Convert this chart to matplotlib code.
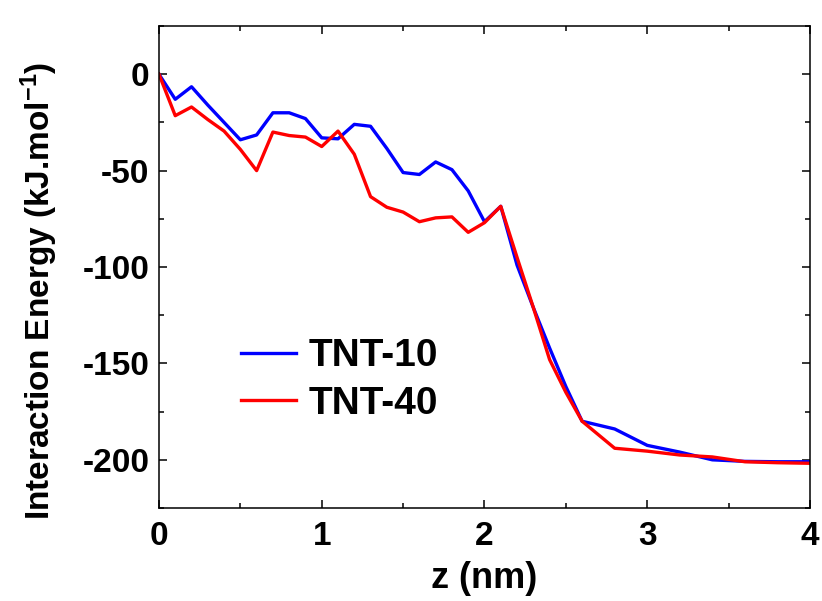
import matplotlib
matplotlib.use("Agg")
import matplotlib.pyplot as plt
from matplotlib.ticker import MultipleLocator

plt.rcParams['font.family'] = ['Liberation Sans', 'DejaVu Sans']
plt.rcParams['font.weight'] = 'bold'
plt.rcParams['axes.unicode_minus'] = False
plt.rcParams['mathtext.fontset'] = 'custom'
plt.rcParams['mathtext.rm'] = 'Liberation Sans:bold'
plt.rcParams['mathtext.bf'] = 'Liberation Sans:bold'
plt.rcParams['mathtext.it'] = 'Liberation Sans:bold'
plt.rcParams['mathtext.default'] = 'bf'

z = [0.0, 0.1, 0.2, 0.3, 0.4, 0.5, 0.6, 0.7, 0.8, 0.9, 1.0, 1.1, 1.2, 1.3,
     1.4, 1.5, 1.6, 1.7, 1.8, 1.9, 2.0, 2.1, 2.2, 2.3, 2.4, 2.5, 2.6,
     2.8, 3.0, 3.2, 3.4, 3.6, 3.8, 4.0]

tnt10 = [0, -13, -6.5, -16, -25, -34, -31.5, -20, -20, -23, -33, -33.5, -26, -27,
         -38.5, -51, -52, -45.5, -49.5, -60.5, -76.5, -68.5, -99, -121, -142, -162, -180,
         -184, -192.5, -196, -200, -200.8, -201, -201]

tnt40 = [0, -21.5, -17, -23.5, -29.5, -39, -50, -30, -31.8, -32.6, -37.5, -29.5, -41.5, -63.5,
         -69, -71.5, -76.5, -74.5, -74, -82, -77, -68.5, -95, -121, -148, -165, -180,
         -194, -195.5, -197.5, -198.5, -201, -201.5, -201.8]

labels = ['TNT-10', 'TNT-40']
colors = ['#0000ff', '#ff0000']

fig = plt.figure(figsize=(8.22, 6.01), dpi=100)
ax = fig.add_axes([0.1934, 0.1547, 0.792, 0.802])

ax.plot(z, tnt10, color=colors[0], lw=2.4, label=labels[0])
ax.plot(z, tnt40, color=colors[1], lw=2.4, label=labels[1])

ax.set_xlim(0, 4)
ax.set_ylim(-225, 25)
ax.xaxis.set_major_locator(MultipleLocator(1))
ax.xaxis.set_minor_locator(MultipleLocator(0.5))
ax.yaxis.set_major_locator(MultipleLocator(50))
ax.yaxis.set_minor_locator(MultipleLocator(25))
ax.tick_params(which='both', direction='in', top=True, right=True, width=1.1)
ax.tick_params(which='major', length=6, labelsize=24)
ax.tick_params(axis='y', which='major', pad=7)
ax.tick_params(axis='x', which='major', pad=9)
ax.tick_params(which='minor', length=3.5)
for s in ax.spines.values():
    s.set_linewidth(1.1)

ax.set_xlabel('z (nm)', fontsize=26, fontweight='bold', labelpad=7)
ax.set_ylabel(r'Interaction Energy (kJ.mol$^{-1}$)', fontsize=24, fontweight='bold')
ax.yaxis.set_label_coords(-0.152, 0.45)

leg = ax.legend(loc='upper left', bbox_to_anchor=(0.073, 0.425), frameon=False,
                prop={'size': 28, 'weight': 'bold'}, handlelength=1.4,
                handletextpad=0.32, labelspacing=0.3)

fig.savefig('out.png', dpi=100)
